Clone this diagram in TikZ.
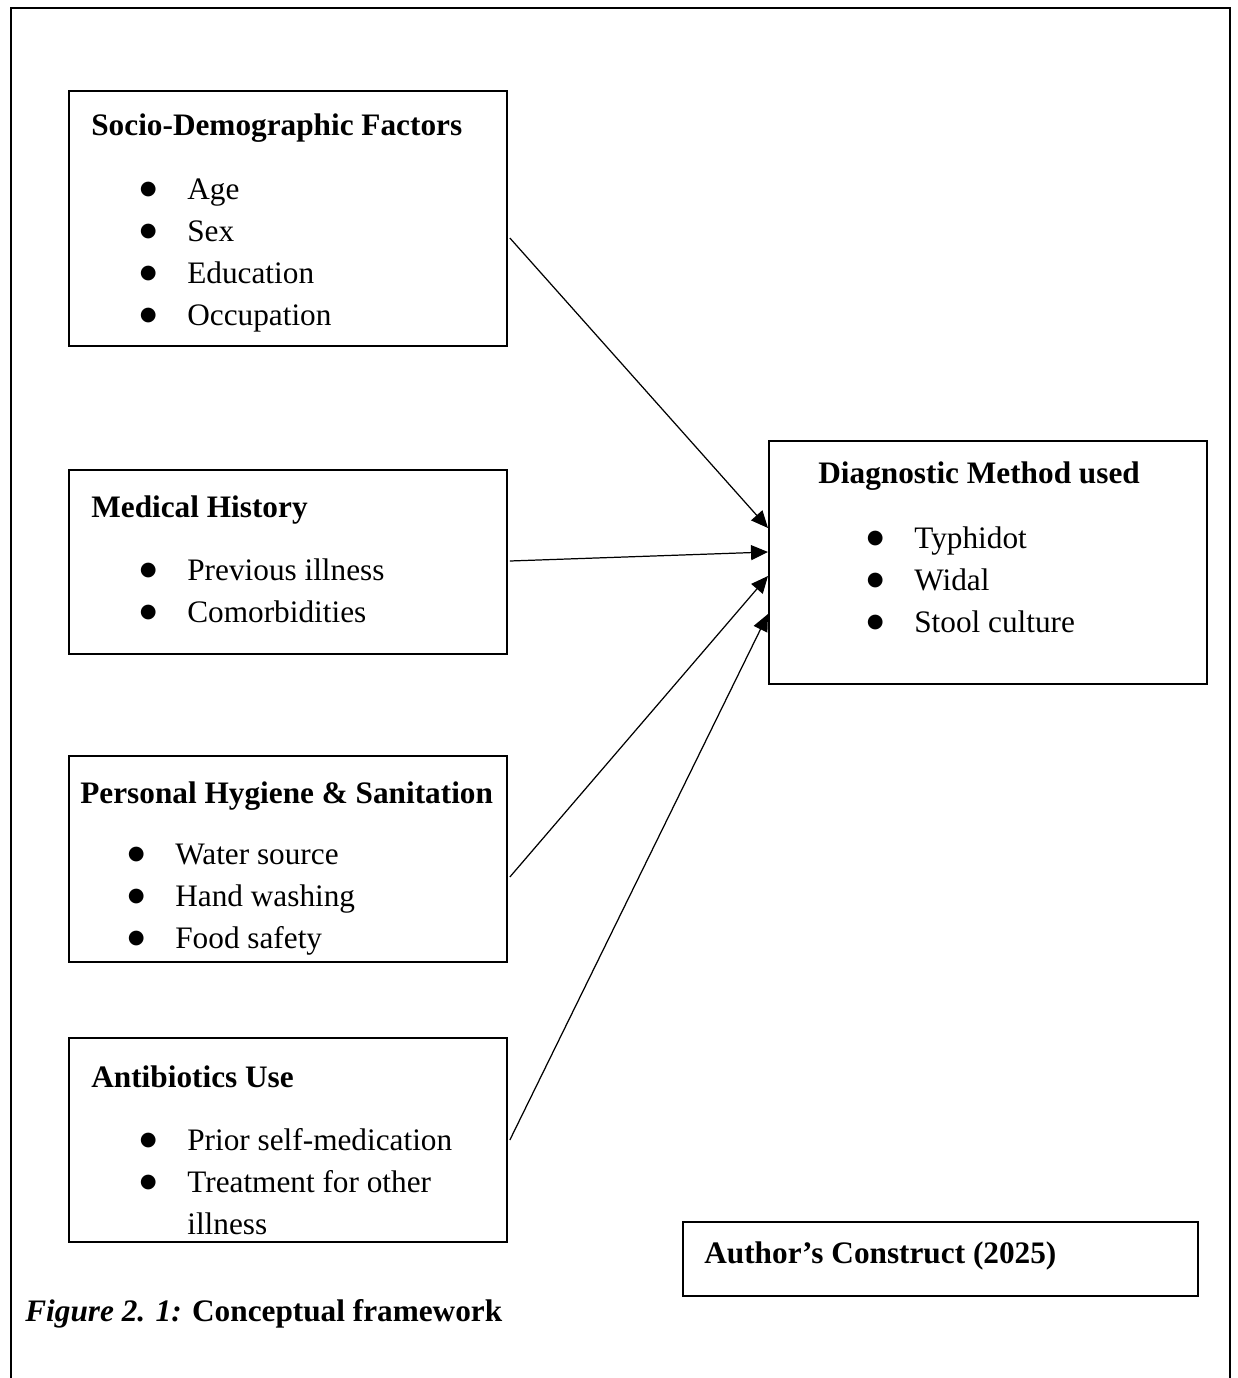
\documentclass[tikz,border=0pt]{standalone}
\usepackage{fontspec}
\setmainfont{Liberation Serif}
\newfontfamily\dotfont{DejaVu Sans}
\usepackage{tikz}
\usetikzlibrary{arrows.meta, positioning, calc}
\newcommand{\bul}{\makebox[0.92cm][l]{\hspace*{-0.03cm}\raisebox{0.16em}{\dotfont\fontsize{11}{11}\selectfont ●}}}
\newcommand{\nobul}{\makebox[0.92cm][l]{}}
\tikzset{
  factorbox/.style={rectangle, draw=black, anchor=north west, inner sep=0pt,
    minimum width=8.76cm, line width=1.1pt},
  boxtitle/.style={anchor=base west, inner sep=0pt,
    font=\fontsize{17.8}{23.9}\selectfont\bfseries},
  boxlist/.style={anchor=north west, inner sep=0pt, align=left,
    font=\fontsize{17.8}{23.9}\selectfont},
  arrow/.style={-{Triangle[length=0.34cm, width=0.3cm]}, line width=0.7pt, color=black}
}

\begin{document}
\begin{tikzpicture}[x=0.02cm, y=-0.02cm]
  \useasboundingbox (0,0) rectangle (1237,1378);
  \draw[line width=1.4pt] (11,1378) -- (11,8) -- (1230,8) -- (1230,1378);

  % factor boxes
  \node[factorbox, minimum height=5.10cm] (socio) at (68,90) {};
  \node[factorbox, minimum height=3.68cm] (medhist) at (68,469) {};
  \node[factorbox, minimum height=4.12cm] (hygiene) at (68,755) {};
  \node[factorbox, minimum height=4.08cm] (antibio) at (68,1037) {};
  \node[factorbox, minimum height=4.86cm] (diag) at (768,440) {};
  \node[factorbox, minimum width=10.30cm, minimum height=1.48cm] (author) at (682,1221) {};

  % box texts
  \node[boxtitle] (socio-t) at (91,136) {Socio-Demographic Factors};
  \node[boxlist] (socio-l) at (141,179) {\bul Age\\ \bul Sex\\ \bul Education\\ \bul Occupation};
  \node[boxtitle] (medhist-t) at (91,517) {Medical History};
  \node[boxlist] (medhist-l) at (141,558) {\bul Previous illness\\ \bul Comorbidities};
  \node[boxtitle] (hygiene-t) at (80,803) {Personal Hygiene \& Sanitation};
  \node[boxlist] (hygiene-l) at (129,844) {\bul Water source\\ \bul Hand washing\\ \bul Food safety};
  \node[boxtitle] (antibio-t) at (91,1087) {Antibiotics Use};
  \node[boxlist] (antibio-l) at (141,1128) {\bul Prior self-medication\\ \bul Treatment for other\\ \nobul illness};
  \node[boxtitle] (diag-t) at (818,483) {Diagnostic Method used};
  \node[boxlist] (diag-l) at (868,526) {\bul Typhidot\\ \bul Widal\\ \bul Stool culture};
  \node[boxtitle] (author-t) at (704,1263) {Author’s Construct (2025)};
  \node[boxtitle] (caption) at (25,1321) {\textit{Figure 2. 1:} Conceptual framework};

  % arrows into the diagnostic box
  \draw[arrow] ($(socio.north east)+(2,148)$) -- ($(diag.north west)+(0,88)$);
  \draw[arrow] ($(medhist.north east)+(2,92)$) -- ($(diag.north west)+(0,112)$);
  \draw[arrow] ($(hygiene.north east)+(2,122)$) -- ($(diag.north west)+(0,136)$);
  \draw[arrow] ($(antibio.north east)+(2,103)$) -- ($(diag.north west)+(0,174)$);
\end{tikzpicture}
\end{document}
